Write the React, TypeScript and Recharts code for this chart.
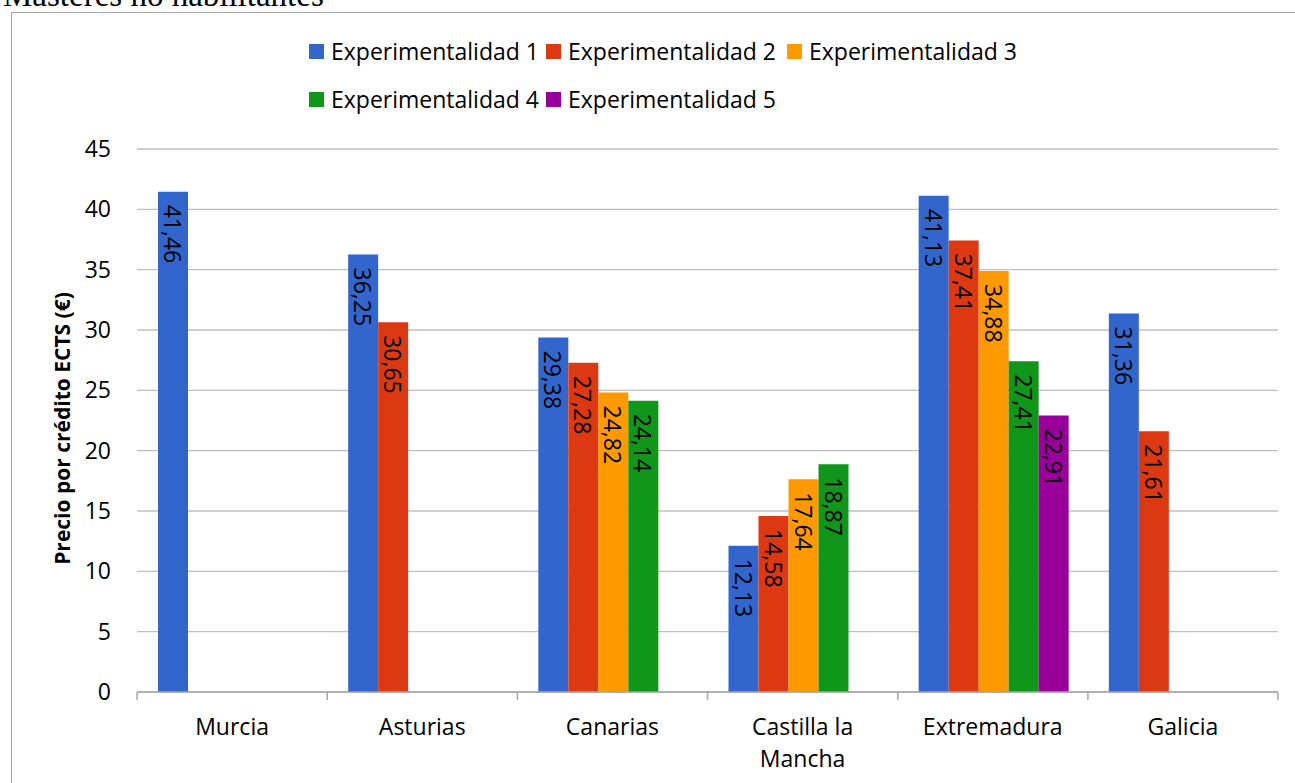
import { BarChart, Bar, XAxis, YAxis, CartesianGrid, LabelList, Label } from "recharts";

const categories = ["Murcia", "Asturias", "Canarias", "Castilla la Mancha", "Extremadura", "Galicia"];
const exp1 = [41.46, 36.25, 29.38, 12.13, 41.13, 31.36];
const exp2 = [null, 30.65, 27.28, 14.58, 37.41, 21.61];
const exp3 = [null, null, 24.82, 17.64, 34.88, null];
const exp4 = [null, null, 24.14, 18.87, 27.41, null];
const exp5 = [null, null, null, null, 22.91, null];
const yTicks = [0, 5, 10, 15, 20, 25, 30, 35, 40, 45];

const series = [
  { key: "e1", name: "Experimentalidad 1", color: "#3366CC", values: exp1 },
  { key: "e2", name: "Experimentalidad 2", color: "#DC3912", values: exp2 },
  { key: "e3", name: "Experimentalidad 3", color: "#FF9900", values: exp3 },
  { key: "e4", name: "Experimentalidad 4", color: "#109618", values: exp4 },
  { key: "e5", name: "Experimentalidad 5", color: "#990099", values: exp5 },
];

const data = categories.map((name, i) => {
  const row: Record<string, string | number | null> = { name };
  series.forEach((s) => (row[s.key] = s.values[i]));
  return row;
});

const FONT = "'Open Sans', 'Noto Sans', sans-serif";
const FS = 23;

// split long category names over two lines
function wrap(text: string) {
  const lines: string[] = [];
  let cur = "";
  text.split(" ").forEach((w) => {
    const next = cur ? cur + " " + w : w;
    if (next.length > 11 && cur) {
      lines.push(cur);
      cur = w;
    } else cur = next;
  });
  if (cur) lines.push(cur);
  return lines;
}

const CategoryTick = (props: any) => {
  const { x, y, payload } = props;
  const lines = wrap(payload.value);
  const half = 95;
  return (
    <g>
      <line x1={x - half} x2={x - half} y1={y - 8} y2={y} stroke="#a6a6a6" strokeWidth={1.5} />
      {payload.index === categories.length - 1 && (
        <line x1={x + half} x2={x + half} y1={y - 8} y2={y} stroke="#a6a6a6" strokeWidth={1.5} />
      )}
      {lines.map((l, i) => (
        <text key={i} x={x} y={y + 35 + i * 32} textAnchor="middle" fontSize={FS} fill="#000" fontFamily={FONT}>
          {l}
        </text>
      ))}
    </g>
  );
};

const ValueLabel = (props: any) => {
  const { x, y, width, value } = props;
  if (value == null) return null;
  const cx = x + width / 2;
  const ty = y + 13;
  return (
    <text x={cx} y={ty} transform={`rotate(90, ${cx}, ${ty})`} textAnchor="start" dominantBaseline="central" fontSize={FS} fill="#000" fontFamily={FONT}>
      {Number(value).toFixed(2).replace(".", ",")}
    </text>
  );
};

const legendCols = [237, 241, 260];

export default function App() {
  return (
    <div style={{ position: "absolute", left: 0, top: 0, width: 1295, height: 783, overflow: "hidden", background: "#fff" }}>
      <div style={{ position: "absolute", left: 3, top: -21, fontFamily: "'Liberation Serif', serif", fontSize: 33, lineHeight: "33px", whiteSpace: "nowrap" }}>
        Másteres no habilitantes
      </div>
      <div style={{ position: "absolute", left: 11, top: 12, width: 1300, height: 800, border: "1.5px solid #a6a6a6" }} />
      <div style={{ position: "absolute", left: 309, top: 37, display: "flex", flexWrap: "wrap", width: 760, rowGap: 19, fontFamily: FONT, fontSize: FS }}>
        {series.map((s, i) => (
          <div key={s.key} style={{ display: "flex", alignItems: "center", width: legendCols[i % 3], height: 29 }}>
            <span style={{ width: 15, height: 15, background: s.color, marginRight: 7, display: "inline-block" }} />
            <span style={{ lineHeight: "29px" }}>{s.name}</span>
          </div>
        ))}
      </div>
      <div style={{ position: "absolute", left: 0, top: 0 }}>
        <BarChart width={1295} height={783} data={data} margin={{ top: 149, right: 17, left: 0, bottom: 0 }} barCategoryGap={21} barGap={0}>
          <CartesianGrid vertical={false} stroke="#c0c0c0" strokeWidth={1.3} />
          <XAxis dataKey="name" height={91} interval={0} tick={<CategoryTick />} tickLine={false} stroke="#a6a6a6" strokeWidth={1.5} />
          <YAxis width={137} domain={[0, 45]} ticks={yTicks} axisLine={false} tickLine={false} tickSize={0} tickMargin={26} tick={{ fontSize: FS, fill: "#000", fontFamily: FONT }}>
            <Label
              content={(p: any) => {
                const cy = p.viewBox.y + p.viewBox.height / 2 + 8;
                return (
                  <text x={62} y={cy} transform={`rotate(-90, 62, ${cy})`} textAnchor="middle" dominantBaseline="central" fontSize={21} fontWeight="bold" fontFamily={FONT} fill="#000">
                    Precio por crédito ECTS (€)
                  </text>
                );
              }}
            />
          </YAxis>
          {series.map((s) => (
            <Bar key={s.key} dataKey={s.key} name={s.name} fill={s.color} isAnimationActive={false}>
              <LabelList dataKey={s.key} content={<ValueLabel />} />
            </Bar>
          ))}
        </BarChart>
      </div>
    </div>
  );
}
